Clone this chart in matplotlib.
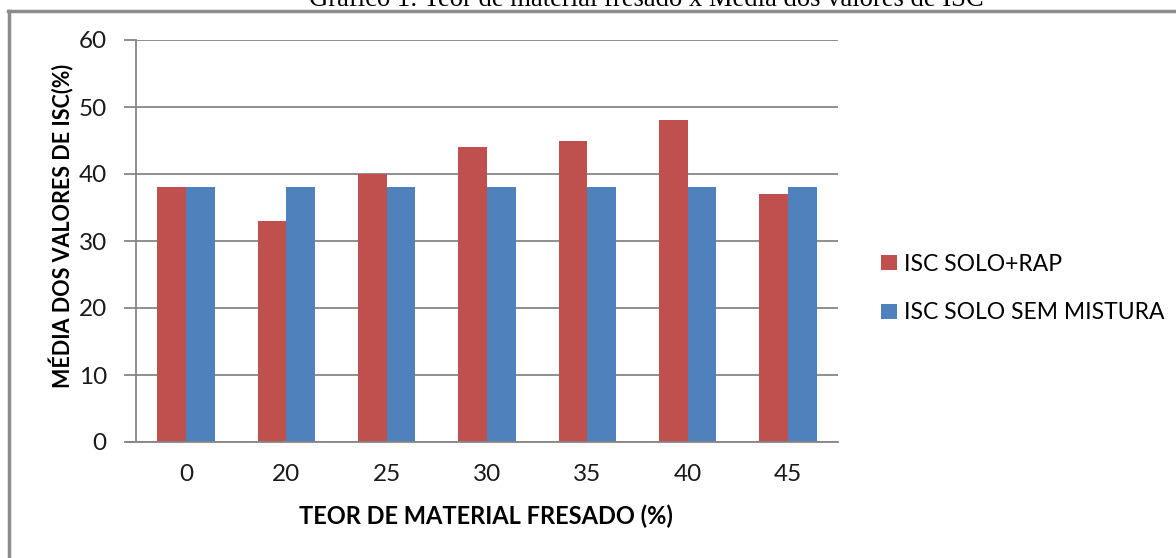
import matplotlib
matplotlib.use("Agg")
import matplotlib.pyplot as plt
import numpy as np
from matplotlib.lines import Line2D

# data
teor = ["0", "20", "25", "30", "35", "40", "45"]
isc_rap = [38, 33, 40, 44, 45, 48, 37]
isc_sem_mistura = [38, 38, 38, 38, 38, 38, 38]

RED = "#C0504D"
BLUE = "#4F81BD"
GRID = "#868686"

plt.rcParams["font.family"] = ["Lato", "DejaVu Sans"]

W, H = 1176, 558
fig = plt.figure(figsize=(W / 100, H / 100), dpi=100)
ax = fig.add_axes([136 / W, 1 - 442 / H, (838 - 136) / W, (442 - 40) / H])

x = np.arange(len(teor))
width = 0.287
ax.bar(x - width / 2, isc_rap, width=width, color=RED, label="ISC SOLO+RAP", zorder=3)
ax.bar(x + width / 2, isc_sem_mistura, width=width, color=BLUE,
       label="ISC SOLO SEM MISTURA", zorder=3)

ax.set_xlim(-0.5, len(teor) - 0.5)
ax.set_ylim(0, 60)
ax.set_yticks(np.arange(0, 61, 10))
ax.set_xticks(x)
ax.set_xticklabels(teor)
ax.grid(axis="y", color=GRID, linewidth=1.3, zorder=0)

for side in ["top", "right"]:
    ax.spines[side].set_visible(False)
ax.spines["left"].set_color(GRID)
ax.spines["left"].set_linewidth(1.3)
ax.spines["bottom"].set_visible(False)
# x axis line reaching out to the y tick mark, like in Excel
ax.add_line(Line2D([-0.5 - 9 / 100.3, len(teor) - 0.5], [0, 0], color=GRID,
                   linewidth=1.3, clip_on=False, zorder=4))

ax.tick_params(axis="y", length=9, width=1.3, color=GRID, pad=12,
               labelsize=17.5, labelcolor="#1a1a1a")
ax.tick_params(axis="x", length=0, pad=16, labelsize=17.5, labelcolor="#1a1a1a")

fig.text(486 / W, 1 - 516.5 / H, "TEOR DE MATERIAL FRESADO (%)", ha="center",
         va="center", fontsize=17, fontweight="bold")
fig.text(62 / W, 1 - 226 / H, "MÉDIA DOS VALORES DE ISC(%)", ha="center",
         va="center", rotation=90, fontsize=15.5, fontweight="bold")

fig.legend(loc="center left", bbox_to_anchor=(881 / W, 1 - 288.5 / H),
           frameon=False, fontsize=16.5, handlelength=0.7, handleheight=0.65,
           handletextpad=0.32, labelspacing=1.2, borderpad=0, borderaxespad=0)

# cropped caption and frame of the original figure
fig.text(646 / W, 1 - 6.5 / H,
         "Gráfico 1: Teor de material fresado x Média dos valores de ISC",
         ha="center", va="baseline", fontsize=19.2, family="Liberation Serif")
fig.add_artist(Line2D([9 / W, 9 / W], [0, 1 - 11 / H], color="#8c8c8c",
                      linewidth=2.5, transform=fig.transFigure))
fig.add_artist(Line2D([8 / W, 1], [1 - 11 / H, 1 - 11 / H], color="#8c8c8c",
                      linewidth=2.5, transform=fig.transFigure))

fig.savefig("out.png", dpi=100, facecolor="white")
